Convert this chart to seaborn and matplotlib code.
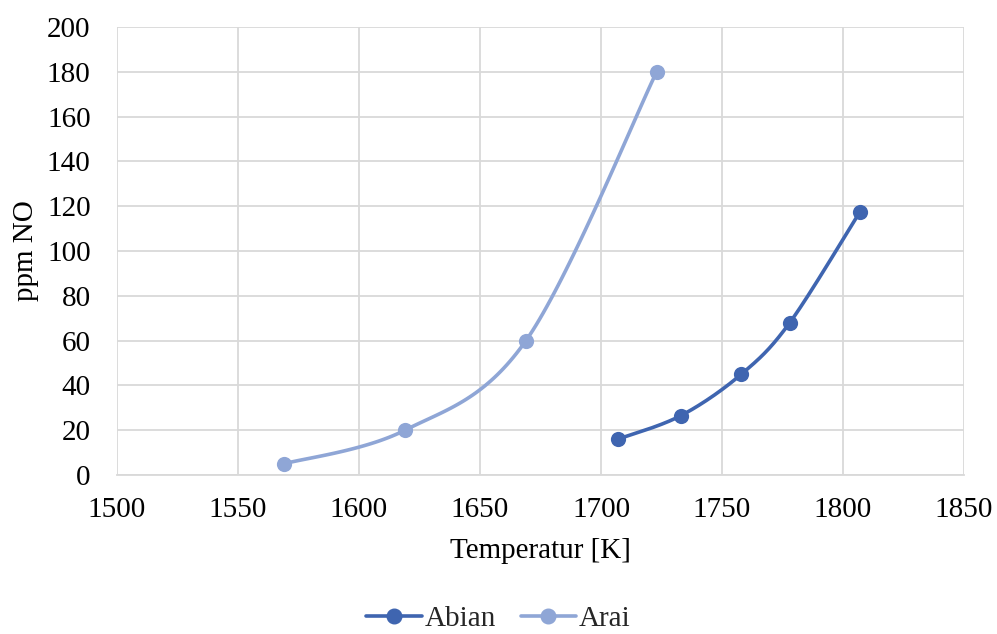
import numpy as np
import pandas as pd
import matplotlib
matplotlib.use("Agg")
import matplotlib.pyplot as plt
from matplotlib.lines import Line2D
import seaborn as sns

# Measured NO concentration against temperature
abian_temp = [1707, 1733, 1758, 1778, 1807]
abian_ppm = [16, 26.5, 45, 68, 117.5]
arai_temp = [1569, 1619, 1669, 1723]
arai_ppm = [5, 20, 60, 180]

series_names = ["Abian", "Arai"]
series_colors = ["#3F65B0", "#8FA6D6"]

x_ticks = [1500, 1550, 1600, 1650, 1700, 1750, 1800, 1850]
y_ticks = [0, 20, 40, 60, 80, 100, 120, 140, 160, 180, 200]


def smooth_curve(xs, ys, n=40):
    """Cardinal Bezier smoothing through the given points."""
    p = np.column_stack([xs, ys]).astype(float)
    m = len(p)
    out = []
    t = np.linspace(0, 1, n)[:, None]
    for i in range(m - 1):
        p0 = p[max(i - 1, 0)]
        p1 = p[i]
        p2 = p[i + 1]
        p3 = p[min(i + 2, m - 1)]
        c1 = p1 + (p2 - p0) / 6.0
        c2 = p2 - (p3 - p1) / 6.0
        seg = ((1 - t) ** 3) * p1 + 3 * ((1 - t) ** 2) * t * c1 \
            + 3 * (1 - t) * t ** 2 * c2 + t ** 3 * p2
        out.append(seg if i == 0 else seg[1:])
    return np.vstack(out)


sns.set_theme(style="whitegrid")
plt.rcParams["font.family"] = ["Liberation Serif", "DejaVu Serif"]

FS = 21

fig = plt.figure(figsize=(9.97, 6.34), dpi=100)
ax = fig.add_axes([117 / 997, 1 - 475 / 634, (964 - 117) / 997, (475 - 27) / 634])

handles = []
for name, xs, ys, col in zip(series_names, [abian_temp, arai_temp],
                             [abian_ppm, arai_ppm], series_colors):
    curve = smooth_curve(xs, ys)
    cdf = pd.DataFrame({"x": curve[:, 0], "y": curve[:, 1]})
    sns.lineplot(data=cdf, x="x", y="y", sort=False, estimator=None,
                 color=col, linewidth=2.6, ax=ax, zorder=3)
    pdf = pd.DataFrame({"x": xs, "y": ys})
    sns.scatterplot(data=pdf, x="x", y="y", color=col, s=120,
                    edgecolor=col, linewidth=0, ax=ax, zorder=4)
    handles.append(Line2D([], [], color=col, linewidth=2.6, marker="o",
                          markersize=10.5, label=name))

ax.set_xlim(1500, 1850)
ax.set_ylim(0, 200)
ax.set_xticks(x_ticks)
ax.set_yticks(y_ticks)
ax.tick_params(axis="both", labelsize=FS, colors="black", length=0)
ax.tick_params(axis="x", pad=16)
ax.tick_params(axis="y", pad=19)
ax.grid(True, color="#D9D9D9", linewidth=1.3)
for side in ["left", "top", "right"]:
    ax.spines[side].set_visible(False)
ax.spines["bottom"].set_visible(True)
ax.spines["bottom"].set_color("#D9D9D9")
ax.spines["bottom"].set_linewidth(1.3)

ax.set_xlabel("Temperatur [K]", fontsize=FS, color="black", labelpad=11)
ax.set_ylabel("ppm NO", fontsize=FS, color="black", labelpad=6)

fig.legend(handles=handles, loc="center", bbox_to_anchor=(0.5, 1 - 619 / 634),
           ncol=2, frameon=False, fontsize=FS, handlelength=1.9,
           columnspacing=0.85, handletextpad=0.1, borderpad=0.1)

fig.savefig("out.png", dpi=100, facecolor="white")
